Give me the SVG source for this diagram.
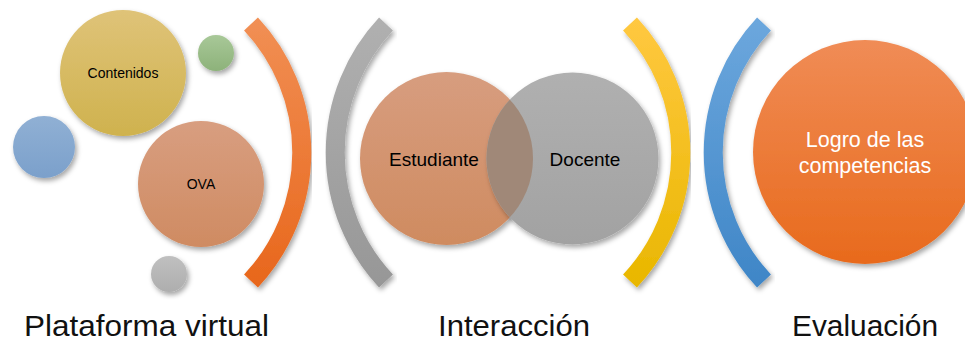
<svg xmlns="http://www.w3.org/2000/svg" width="965" height="343" viewBox="0 0 965 343">
<defs>
<filter id="sh" x="-20%" y="-20%" width="140%" height="140%">
<feDropShadow dx="2" dy="3" stdDeviation="2.5" flood-color="#000" flood-opacity="0.35"/>
</filter>
<linearGradient id="gOrangeArc" gradientUnits="userSpaceOnUse" x1="0" y1="20" x2="0" y2="285"><stop offset="0" stop-color="#F18F54"/><stop offset="1" stop-color="#E8671C"/></linearGradient>
<linearGradient id="gGrayArc" gradientUnits="userSpaceOnUse" x1="0" y1="20" x2="0" y2="285"><stop offset="0" stop-color="#B0B0B0"/><stop offset="1" stop-color="#979797"/></linearGradient>
<linearGradient id="gYellowArc" gradientUnits="userSpaceOnUse" x1="0" y1="20" x2="0" y2="285"><stop offset="0" stop-color="#FFC840"/><stop offset="1" stop-color="#E9B700"/></linearGradient>
<linearGradient id="gBlueArc" gradientUnits="userSpaceOnUse" x1="0" y1="20" x2="0" y2="285"><stop offset="0" stop-color="#6CA7DD"/><stop offset="1" stop-color="#3F86C7"/></linearGradient>
<linearGradient id="gCont" x1="0" y1="0" x2="0" y2="1"><stop offset="0" stop-color="#DFC378"/><stop offset="1" stop-color="#CFB24E"/></linearGradient>
<linearGradient id="gOva" x1="0" y1="0" x2="0" y2="1"><stop offset="0" stop-color="#D89E80"/><stop offset="1" stop-color="#CF8B62"/></linearGradient>
<linearGradient id="gBlue" x1="0" y1="0" x2="0" y2="1"><stop offset="0" stop-color="#90B0D4"/><stop offset="1" stop-color="#7BA0CB"/></linearGradient>
<linearGradient id="gGreen" x1="0" y1="0" x2="0" y2="1"><stop offset="0" stop-color="#A8C898"/><stop offset="1" stop-color="#8DB27A"/></linearGradient>
<linearGradient id="gGraySm" x1="0" y1="0" x2="0" y2="1"><stop offset="0" stop-color="#C0C0C0"/><stop offset="1" stop-color="#AEAEAE"/></linearGradient>
<linearGradient id="gEst" x1="0" y1="0" x2="0" y2="1"><stop offset="0" stop-color="#D79D7F"/><stop offset="1" stop-color="#CF8B60"/></linearGradient>
<linearGradient id="gDoc" x1="0" y1="0" x2="0" y2="1"><stop offset="0" stop-color="#B0B0B0"/><stop offset="1" stop-color="#A2A2A2"/></linearGradient>
<linearGradient id="gLogro" x1="0" y1="0" x2="0" y2="1"><stop offset="0" stop-color="#F08C56"/><stop offset="1" stop-color="#E86A1C"/></linearGradient>
<clipPath id="clipEst"><circle cx="446.5" cy="158.5" r="86.5"/></clipPath>
</defs>
<style>
.arc{fill:none;stroke-width:19;stroke-linecap:butt}
.t{font-family:"Liberation Sans",Arial,sans-serif;fill:#000;text-anchor:middle}
.w{fill:#fff}
.lbl{font-family:"Liberation Sans",Arial,sans-serif;fill:#111;text-anchor:middle;font-size:30px}
</style>

<g id="arc-orange" filter="url(#sh)"><path class="arc" stroke="url(#gOrangeArc)" d="M 251,24 A 188 188 0 0 1 251,281"/></g>
<g id="arc-gray" filter="url(#sh)"><path class="arc" stroke="url(#gGrayArc)" d="M 386,24 A 188 188 0 0 0 386,281"/></g>
<g id="arc-yellow" filter="url(#sh)"><path class="arc" stroke="url(#gYellowArc)" d="M 630,24 A 188 188 0 0 1 630,281"/></g>
<g id="arc-blue" filter="url(#sh)"><path class="arc" stroke="url(#gBlueArc)" d="M 764,24 A 188 188 0 0 0 764,281"/></g>

<g id="contenidos"><circle cx="123" cy="73" r="63" fill="url(#gCont)" filter="url(#sh)"/><text class="t" x="123" y="78" font-size="14">Contenidos</text></g>
<g id="dot-green"><circle cx="216" cy="53" r="18" fill="url(#gGreen)" filter="url(#sh)"/></g>
<g id="dot-blue"><circle cx="44" cy="147" r="31" fill="url(#gBlue)" filter="url(#sh)"/></g>
<g id="ova"><circle cx="201" cy="184" r="63" fill="url(#gOva)" filter="url(#sh)"/><text class="t" x="201" y="189" font-size="14">OVA</text></g>
<g id="dot-gray"><circle cx="169" cy="274" r="18" fill="url(#gGraySm)" filter="url(#sh)"/></g>

<g id="estudiante"><circle cx="446.5" cy="158.5" r="86.5" fill="url(#gEst)" filter="url(#sh)"/></g>
<g id="docente"><circle cx="572.5" cy="158.5" r="86" fill="url(#gDoc)" filter="url(#sh)"/>
<circle cx="572.5" cy="158.5" r="86" fill="#A08878" clip-path="url(#clipEst)"/></g>
<text class="t" x="434" y="165.5" font-size="19">Estudiante</text>
<text class="t" x="585" y="165.5" font-size="19">Docente</text>

<g id="logro"><circle cx="865" cy="152" r="112" fill="url(#gLogro)" filter="url(#sh)"/>
<text class="t w" x="865" y="146.5" font-size="21.5">Logro de las</text>
<text class="t w" x="865" y="172.5" font-size="21.5">competencias</text></g>

<g id="labels">
<text class="lbl" x="146.5" y="336" textLength="245" lengthAdjust="spacingAndGlyphs">Plataforma virtual</text>
<text class="lbl" x="514" y="336" textLength="152" lengthAdjust="spacingAndGlyphs">Interacción</text>
<text class="lbl" x="865" y="336" textLength="146" lengthAdjust="spacingAndGlyphs">Evaluación</text>
</g>
</svg>
